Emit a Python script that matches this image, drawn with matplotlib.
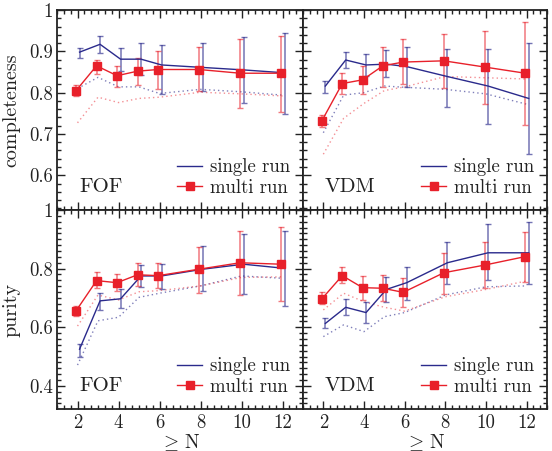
import matplotlib
matplotlib.use("Agg")
import matplotlib.pyplot as plt
from matplotlib.ticker import MultipleLocator, FuncFormatter
import numpy as np

plt.rcParams['font.family'] = 'serif'
plt.rcParams['font.serif'] = ['cmr10']
plt.rcParams['mathtext.fontset'] = 'cm'
plt.rcParams['axes.formatter.use_mathtext'] = True

N = [2, 3, 4, 5, 6, 8, 10, 12]

# completeness, FOF
c_fof_single = [0.898, 0.917, 0.881, 0.881, 0.867, 0.861, 0.855, 0.848]
c_fof_single_hi = [0.909, 0.938, 0.909, 0.919, 0.915, 0.919, 0.934, 0.945]
c_fof_single_lo = [0.885, 0.897, 0.853, 0.843, 0.796, 0.804, 0.776, 0.748]
c_fof_multi = [0.805, 0.865, 0.841, 0.852, 0.856, 0.856, 0.847, 0.847]
c_fof_multi_hi = [0.818, 0.879, 0.865, 0.885, 0.901, 0.910, 0.929, 0.938]
c_fof_multi_lo = [0.792, 0.845, 0.814, 0.818, 0.810, 0.805, 0.764, 0.754]
c_fof_single_dot = [0.810, 0.837, 0.814, 0.814, 0.798, 0.808, 0.802, 0.794]
c_fof_multi_dot = [0.727, 0.789, 0.776, 0.786, 0.789, 0.801, 0.797, 0.792]

# completeness, VDM
c_vdm_single = [0.816, 0.879, 0.867, 0.869, 0.863, 0.839, 0.816, 0.786]
c_vdm_single_hi = [0.829, 0.899, 0.893, 0.902, 0.910, 0.905, 0.906, 0.919]
c_vdm_single_lo = [0.798, 0.859, 0.840, 0.837, 0.814, 0.766, 0.724, 0.651]
c_vdm_multi = [0.732, 0.822, 0.831, 0.865, 0.874, 0.877, 0.862, 0.847]
c_vdm_multi_hi = [0.747, 0.848, 0.865, 0.911, 0.929, 0.941, 0.950, 0.972]
c_vdm_multi_lo = [0.717, 0.797, 0.797, 0.814, 0.820, 0.812, 0.772, 0.722]
c_vdm_single_dot = [0.703, 0.794, 0.800, 0.816, 0.813, 0.808, 0.797, 0.772]
c_vdm_multi_dot = [0.651, 0.738, 0.774, 0.805, 0.814, 0.839, 0.836, 0.833]

# purity, FOF
p_fof_single = [0.525, 0.690, 0.697, 0.775, 0.775, 0.798, 0.815, 0.801]
p_fof_single_hi = [0.543, 0.716, 0.729, 0.812, 0.816, 0.878, 0.917, 0.929]
p_fof_single_lo = [0.497, 0.659, 0.664, 0.736, 0.730, 0.724, 0.712, 0.672]
p_fof_multi = [0.656, 0.759, 0.752, 0.779, 0.776, 0.798, 0.820, 0.815]
p_fof_multi_hi = [0.673, 0.787, 0.782, 0.820, 0.820, 0.875, 0.928, 0.941]
p_fof_multi_lo = [0.639, 0.733, 0.725, 0.741, 0.733, 0.718, 0.710, 0.690]
p_fof_single_dot = [0.471, 0.622, 0.634, 0.702, 0.716, 0.741, 0.775, 0.767]
p_fof_multi_dot = [0.604, 0.710, 0.693, 0.721, 0.725, 0.741, 0.770, 0.772]

# purity, VDM
p_vdm_single = [0.613, 0.668, 0.650, 0.729, 0.752, 0.820, 0.854, 0.854]
p_vdm_single_hi = [0.630, 0.696, 0.685, 0.772, 0.807, 0.892, 0.951, 0.958]
p_vdm_single_lo = [0.596, 0.642, 0.613, 0.687, 0.693, 0.747, 0.761, 0.746]
p_vdm_multi = [0.697, 0.776, 0.735, 0.733, 0.719, 0.786, 0.812, 0.841]
p_vdm_multi_hi = [0.719, 0.807, 0.775, 0.778, 0.767, 0.854, 0.892, 0.926]
p_vdm_multi_lo = [0.679, 0.750, 0.693, 0.689, 0.668, 0.713, 0.733, 0.755]
p_vdm_single_dot = [0.568, 0.608, 0.585, 0.636, 0.650, 0.710, 0.738, 0.741]
p_vdm_multi_dot = [0.659, 0.716, 0.687, 0.668, 0.655, 0.704, 0.729, 0.758]

BLUE = '#2a2a8c'
RED = '#e8202a'
INK = '#222222'

W, H = 552, 451
fig = plt.figure(figsize=(W / 100, H / 100), dpi=100)
xl, xm, xr = 57 / W, 303 / W, 547 / W
yt, ym, yb = 1 - 10 / H, 1 - 210 / H, 1 - 409 / H
ax_tl = fig.add_axes([xl, ym, xm - xl, yt - ym])
ax_tr = fig.add_axes([xm, ym, xr - xm, yt - ym])
ax_bl = fig.add_axes([xl, yb, xm - xl, ym - yb])
ax_br = fig.add_axes([xm, yb, xr - xm, ym - yb])

x = np.array(N, dtype=float)
off_m, off_s = -0.07, 0.1


def draw(ax, s, s_hi, s_lo, m, m_hi, m_lo, sd, md, label):
    s, m = np.array(s), np.array(m)
    ax.plot(x, sd, ls=(0, (1, 2.2)), color=BLUE, lw=1.0, alpha=0.6)
    ax.plot(x, md, ls=(0, (1, 2.2)), color=RED, lw=1.0, alpha=0.5)
    ax.errorbar(x + off_s, s, yerr=[s - np.array(s_lo), np.array(s_hi) - s],
                fmt='none', ecolor=BLUE, elinewidth=1.1, capsize=2.5, alpha=0.65)
    ax.errorbar(x + off_m, m, yerr=[m - np.array(m_lo), np.array(m_hi) - m],
                fmt='none', ecolor=RED, elinewidth=1.1, capsize=2.5, alpha=0.6)
    ax.plot(x + off_s, s, '-', color=BLUE, lw=1.0, label='single run')
    ax.plot(x + off_m, m, '-s', color=RED, lw=1.0, ms=6, label='multi run')
    ax.text(0.09, 0.07, label, transform=ax.transAxes, fontsize=15,
            color=INK, ha='left', va='bottom')
    ax.legend(loc='lower right', frameon=False, fontsize=13.5, handlelength=1.35,
              handletextpad=0.4, labelspacing=0.15, borderaxespad=0.3,
              labelcolor=INK)


draw(ax_tl, c_fof_single, c_fof_single_hi, c_fof_single_lo,
     c_fof_multi, c_fof_multi_hi, c_fof_multi_lo, c_fof_single_dot, c_fof_multi_dot, 'FOF')
draw(ax_tr, c_vdm_single, c_vdm_single_hi, c_vdm_single_lo,
     c_vdm_multi, c_vdm_multi_hi, c_vdm_multi_lo, c_vdm_single_dot, c_vdm_multi_dot, 'VDM')
draw(ax_bl, p_fof_single, p_fof_single_hi, p_fof_single_lo,
     p_fof_multi, p_fof_multi_hi, p_fof_multi_lo, p_fof_single_dot, p_fof_multi_dot, 'FOF')
draw(ax_br, p_vdm_single, p_vdm_single_hi, p_vdm_single_lo,
     p_vdm_multi, p_vdm_multi_hi, p_vdm_multi_lo, p_vdm_single_dot, p_vdm_multi_dot, 'VDM')

fmt = FuncFormatter(lambda v, p: '%g' % round(v, 3))
for ax in (ax_tl, ax_tr, ax_bl, ax_br):
    ax.set_xlim(1, 13)
    ax.xaxis.set_major_locator(MultipleLocator(2))
    ax.xaxis.set_minor_locator(MultipleLocator(1 / 3))
    ax.tick_params(which='both', direction='in', top=True, right=True,
                   labelsize=13.5, colors=INK, width=1.0)
    ax.tick_params(which='major', length=6)
    ax.tick_params(which='minor', length=3)
    for sp in ax.spines.values():
        sp.set_linewidth(1.3)
        sp.set_color(INK)

for ax in (ax_tl, ax_tr):
    ax.set_ylim(0.516, 1.0)
    ax.yaxis.set_major_locator(MultipleLocator(0.1))
    ax.yaxis.set_minor_locator(MultipleLocator(0.02))
    ax.tick_params(labelbottom=False)
for ax in (ax_bl, ax_br):
    ax.set_ylim(0.321, 1.0)
    ax.yaxis.set_major_locator(MultipleLocator(0.2))
    ax.yaxis.set_minor_locator(MultipleLocator(0.02))
    ax.xaxis.set_major_formatter(FuncFormatter(lambda v, p: '%d' % v))
    ax.set_xlabel(r'$\geq\,$N', fontsize=14, labelpad=0, color=INK)
for ax in (ax_tr, ax_br):
    ax.tick_params(labelleft=False)
for ax in (ax_tl, ax_bl):
    ax.yaxis.set_major_formatter(fmt)
    ax.tick_params(axis='y', pad=3)

ax_tl.set_ylabel('completeness', fontsize=14.5, color=INK)
ax_bl.set_ylabel('purity', fontsize=14.5, color=INK)
ax_tl.yaxis.set_label_coords(-0.15, 0.5)
ax_bl.yaxis.set_label_coords(-0.15, 0.5)

fig.savefig('out.png', dpi=100)
